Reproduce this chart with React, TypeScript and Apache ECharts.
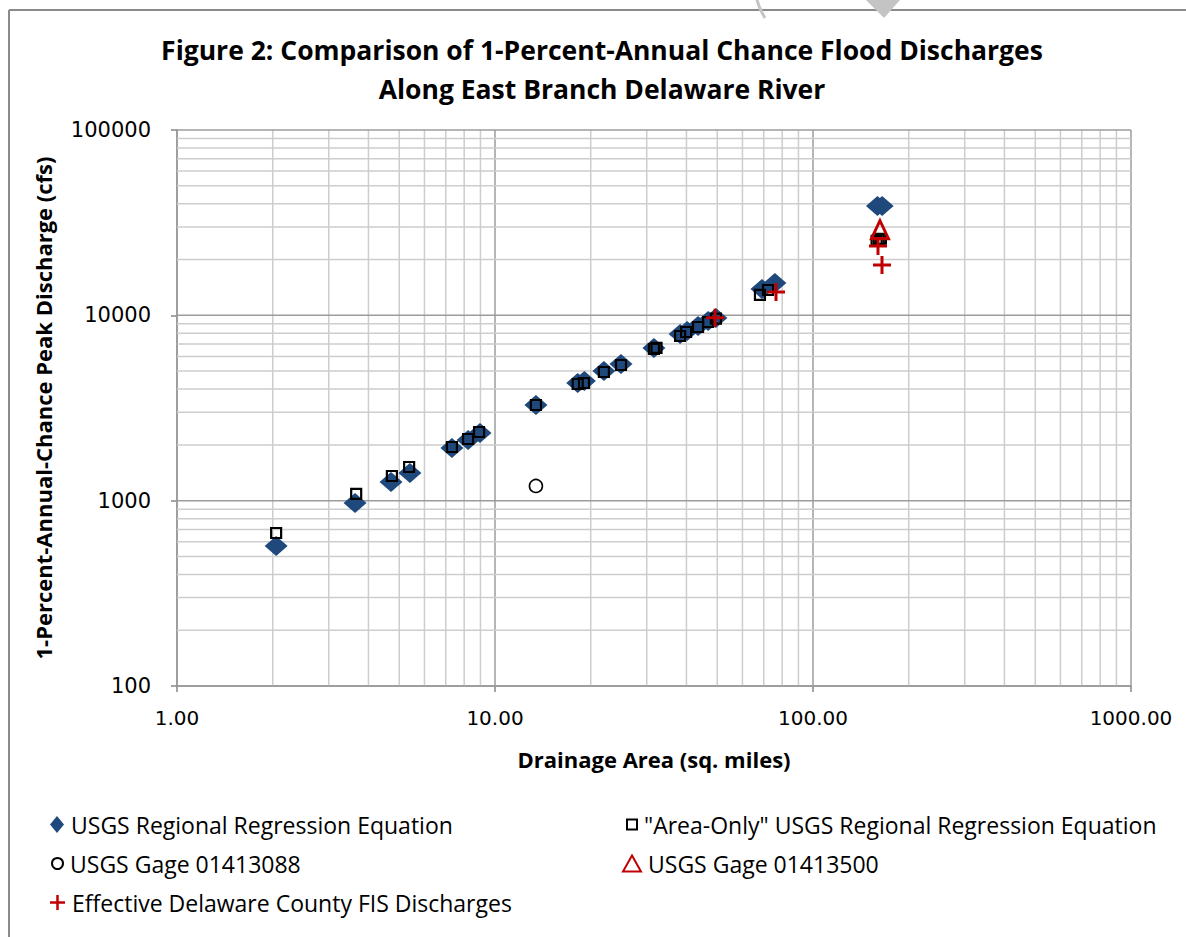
import React, { useEffect, useRef } from "react";
import * as echarts from "echarts";

// ---- Data (drainage area in sq. miles, discharge in cfs) ----
const regressionArea = [2.05, 3.63, 4.71, 5.4, 7.32, 8.23, 8.97, 13.45, 18.2, 19.1, 22.0, 24.9, 31.6, 38.2, 40.2, 43.5, 46.8, 49.5, 69.1, 75.9, 159.5, 165];
const regressionQ = [569, 971, 1261, 1410, 1924, 2125, 2318, 3282, 4314, 4423, 5008, 5464, 6665, 7931, 8233, 8759, 9320, 9674, 13875, 14943, 38900, 38900];

const areaOnlyArea = [2.05, 3.66, 4.74, 5.37, 7.32, 8.23, 8.91, 13.45, 18.2, 19.05, 22.0, 24.9, 31.6, 32.2, 38.2, 39.9, 43.5, 46.8, 49.5, 68.1, 72.2, 158.5, 161, 163.5];
const areaOnlyQ = [669, 1087, 1359, 1519, 1948, 2151, 2347, 3282, 4261, 4314, 4947, 5395, 6582, 6680, 7736, 8131, 8652, 9205, 9600, 12880, 13700, 25200, 25600, 25900];

const gage088Area = [13.45];
const gage088Q = [1200];

const gage500Area = [162.4];
const gage500Q = [29000];

const fisArea = [49.2, 76.5, 160.1, 164.8];
const fisQ = [9700, 13370, 23670, 18690];

// ---- Axis ticks ----
const xMin = 1, xMax = 1000;
const yMin = 100, yMax = 100000;
const xDecades = [1, 10, 100];
const yDecades = [100, 1000, 10000];
const minorMultipliers = [2, 3, 4, 5, 6, 7, 8, 9];
const xMajorValues = [1, 10, 100, 1000];
const yMajorValues = [100, 1000, 10000, 100000];

const seriesNames = [
  "USGS Regional Regression Equation",
  "\"Area-Only\" USGS Regional Regression Equation",
  "USGS Gage 01413088",
  "USGS Gage 01413500",
  "Effective Delaware County FIS Discharges",
];

const title1 = "Figure 2: Comparison of 1-Percent-Annual Chance Flood Discharges";
const title2 = "Along East Branch Delaware River";
const xTitle = "Drainage Area (sq. miles)";
const yTitle = "1-Percent-Annual-Chance Peak Discharge (cfs)";

const NAVY = "#1F497D";
const RED = "#C00000";
const CAL = "'Open Sans', Lato, sans-serif";
const VERD = "'DejaVu Sans', Verdana, sans-serif";
const PLUS = "path://M5,0H7V5H12V7H7V12H5V7H0V5H5Z";

const zip = (a: number[], b: number[]) => a.map((v, i) => [v, b[i]]);

const xGridValues: number[] = [];
xDecades.forEach((d) => minorMultipliers.forEach((m) => xGridValues.push(d * m)));
xMajorValues.forEach((v) => xGridValues.push(v));
const yGridValues: number[] = [];
yDecades.forEach((d) => minorMultipliers.forEach((m) => yGridValues.push(d * m)));
yMajorValues.forEach((v) => yGridValues.push(v));

export default function App() {
  const ref = useRef<HTMLDivElement>(null);
  useEffect(() => {
    const chart = echarts.init(ref.current!, null, { renderer: "svg" });
    const option: any = {
      animation: false,
      backgroundColor: "#ffffff",
      graphic: [
        { type: "line", shape: { x1: 9, y1: 10, x2: 1186, y2: 10 }, style: { stroke: "#8a8a8a", lineWidth: 2 } },
        { type: "line", shape: { x1: 9, y1: 10, x2: 9, y2: 937 }, style: { stroke: "#8a8a8a", lineWidth: 2 } },
        { type: "bezierCurve", shape: { x1: 757, y1: 0, x2: 765, y2: 18, cpx1: 759, cpy1: 8 }, style: { stroke: "#c4c4c4", lineWidth: 3, fill: "none" } },
        { type: "polygon", shape: { points: [[866, 0], [900, 0], [884, 18]] }, style: { fill: "#c4c4c4" } },
        {
          type: "text", x: 602, y: 50,
          style: { text: title1, font: `bold 26.5px ${CAL}`, fill: "#000", align: "center", verticalAlign: "middle" },
        },
        {
          type: "text", x: 602, y: 89,
          style: { text: title2, font: `bold 26.5px ${CAL}`, fill: "#000", align: "center", verticalAlign: "middle" },
        },
      ],
      grid: { left: 177, top: 130, right: 55, bottom: 251, containLabel: false },
      xAxis: {
        type: "log", logBase: 10, min: xMin, max: xMax,
        name: xTitle, nameLocation: "middle", nameGap: 62,
        nameTextStyle: { fontFamily: CAL, fontWeight: "bold", fontSize: 22, color: "#000" },
        axisLine: { lineStyle: { color: "#868686", width: 1.5 } },
        axisTick: { show: true, length: 6, lineStyle: { color: "#868686", width: 1.5 } },
        axisLabel: { fontFamily: VERD, fontSize: 20, color: "#000", margin: 22, formatter: (v: number) => v.toFixed(2) },
        splitLine: { show: false },
      },
      yAxis: {
        type: "log", logBase: 10, min: yMin, max: yMax,
        name: yTitle, nameLocation: "middle", nameGap: 123,
        nameTextStyle: { fontFamily: CAL, fontWeight: "bold", fontSize: 22, color: "#000" },
        axisLine: { lineStyle: { color: "#868686", width: 1.5 } },
        axisTick: { show: true, length: 6, lineStyle: { color: "#868686", width: 1.5 } },
        axisLabel: { fontFamily: VERD, fontSize: 21, color: "#000", margin: 26, formatter: (v: number) => String(Math.round(v)) },
        splitLine: { show: false },
      },
      legend: [
        { name: seriesNames[0], left: 50, top: 813, itemWidth: 14, itemHeight: 17 },
        { name: seriesNames[1], left: 626, top: 813, itemWidth: 10, itemHeight: 10 },
        { name: seriesNames[2], left: 51, top: 852, itemWidth: 11, itemHeight: 11 },
        { name: seriesNames[3], left: 622, top: 852, itemWidth: 18, itemHeight: 16 },
        { name: seriesNames[4], left: 50, top: 891, itemWidth: 15, itemHeight: 15 },
      ].map((l) => ({
        data: [l.name], left: l.left, top: l.top, padding: 0, itemGap: 0,
        itemWidth: l.itemWidth, itemHeight: l.itemHeight, selectedMode: false,
        textStyle: { fontFamily: CAL, fontSize: 23, color: "#000", padding: [0, 0, 0, 2] },
      })),
      series: [
        {
          type: "custom", silent: true, z: 1, clip: false,
          data: xGridValues.map((v) => [v, yMin]),
          encode: { x: 0, y: 1 },
          renderItem: (params: any, api: any) => {
            const v = api.value(0);
            const p1 = api.coord([v, yMin]);
            const p2 = api.coord([v, yMax]);
            const major = xMajorValues.indexOf(v) >= 0;
            return { type: "line", shape: { x1: p1[0], y1: p1[1], x2: p2[0], y2: p2[1] }, style: { stroke: major ? "#9c9c9c" : "#cdcdcd", lineWidth: 1.5 } };
          },
        },
        {
          type: "custom", silent: true, z: 1, clip: false,
          data: yGridValues.map((v) => [xMin, v]),
          encode: { x: 0, y: 1 },
          renderItem: (params: any, api: any) => {
            const v = api.value(1);
            const p1 = api.coord([xMin, v]);
            const p2 = api.coord([xMax, v]);
            const major = yMajorValues.indexOf(v) >= 0;
            return { type: "line", shape: { x1: p1[0], y1: p1[1], x2: p2[0], y2: p2[1] }, style: { stroke: major ? "#9c9c9c" : "#cdcdcd", lineWidth: 1.5 } };
          },
        },
        {
          name: seriesNames[0], type: "scatter", z: 3,
          symbol: "diamond", symbolSize: [23, 20],
          itemStyle: { color: NAVY, opacity: 1 },
          data: zip(regressionArea, regressionQ),
        },
        {
          name: seriesNames[1], type: "scatter", z: 4,
          symbol: "rect", symbolSize: 10,
          itemStyle: { color: "rgba(0,0,0,0)", borderColor: "#000", borderWidth: 2.2, opacity: 1 },
          data: zip(areaOnlyArea, areaOnlyQ),
        },
        {
          name: seriesNames[2], type: "scatter", z: 5,
          symbol: "circle", symbolSize: 13,
          itemStyle: { color: "#fff", borderColor: "#000", borderWidth: 1.6, opacity: 1 },
          data: zip(gage088Area, gage088Q),
        },
        {
          name: seriesNames[3], type: "scatter", z: 5,
          symbol: "triangle", symbolSize: [17, 18],
          itemStyle: { color: "rgba(0,0,0,0)", borderColor: RED, borderWidth: 3, opacity: 1 },
          data: zip(gage500Area, gage500Q),
        },
        {
          name: seriesNames[4], type: "scatter", z: 6,
          symbol: PLUS, symbolSize: 18,
          itemStyle: { color: RED, opacity: 1 },
          data: zip(fisArea, fisQ),
        },
      ],
    };
    chart.setOption(option);
    return () => chart.dispose();
  }, []);
  return (
    <div
      ref={ref}
      style={{ position: "absolute", left: 0, top: 0, width: 1186, height: 937, background: "#fff" }}
    />
  );
}
